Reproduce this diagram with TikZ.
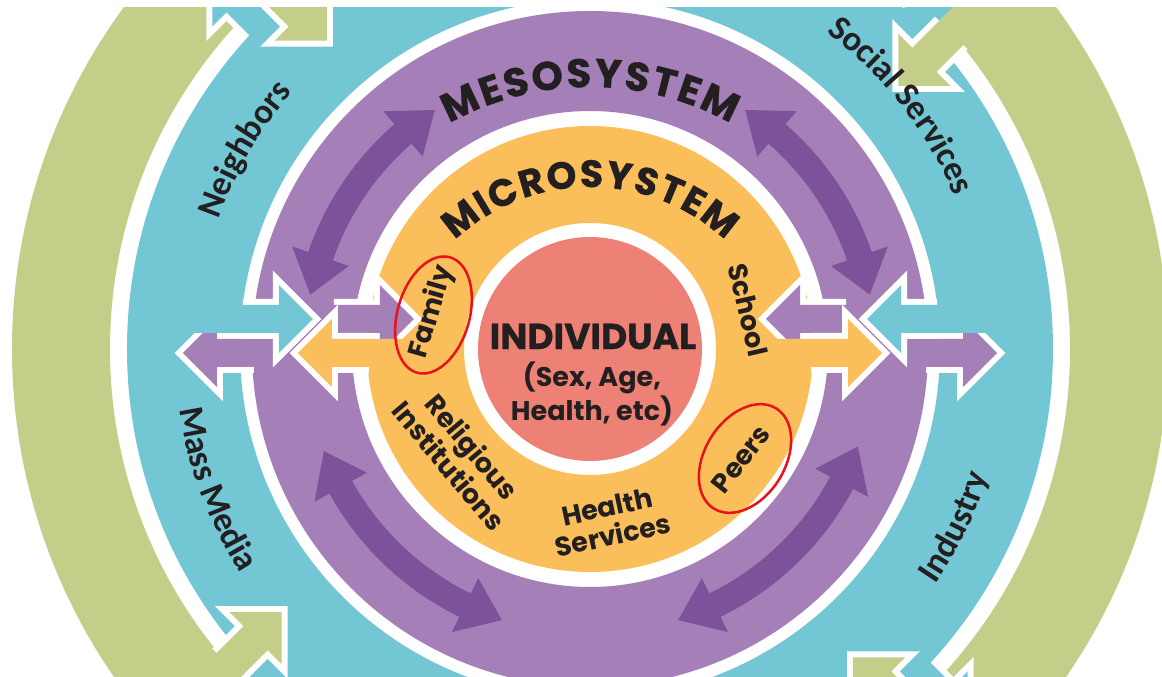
\documentclass[tikz,border=0pt]{standalone}
\usepackage{fontspec}
\usetikzlibrary{decorations.text}
\newfontfamily\pop{Poppins}
\newfontfamily\popheavy{Poppins}[FakeBold=0.8]
\newfontfamily\carl{Carlito}
\definecolor{cgreen}{RGB}{197,206,136}
\definecolor{cteal}{RGB}{115,198,212}
\definecolor{cpurple}{RGB}{165,127,183}
\definecolor{cdark}{RGB}{124,83,155}
\definecolor{corange}{RGB}{250,191,90}
\definecolor{csalmon}{RGB}{237,129,117}
\definecolor{ctxt}{RGB}{35,31,32}
\definecolor{coval}{RGB}{232,18,24}
\newcommand\hH{34}\newcommand\hS{14}\newcommand\hL{34}
\newcommand\arR{285}\newcommand\arS{13}\newcommand\arH{30}\newcommand\arD{8}
\newcommand\outerfont{\carl\bfseries\fontsize{35}{35}\selectfont}
\newcommand\mesofont{\popheavy\bfseries\fontsize{40}{40}\selectfont}
\newcommand\microfont{\popheavy\bfseries\fontsize{38}{38}\selectfont}
\tikzset{
  arrowline/.style={white, line width=12pt, line join=miter},
  lab/.style={font=\pop\bfseries\fontsize{27}{29}\selectfont, text=ctxt, inner sep=0pt},
  oval/.style={coval, line width=2.5pt},
}
% #1 rotation, #2 offset, #3 tip, #4 sign, #5 stem start, #6 outline start, #7 colour
\newcommand\barrow[7]{%
  \begin{scope}[rotate=#1]
    \pgfmathsetmacro\xb{#3-(#4)*\hL}%
    \draw[arrowline]
      (#6,#2+\hS) -- (\xb,#2+\hS) -- (\xb,#2+\hH) -- (#3,#2)
      -- (\xb,#2-\hH) -- (\xb,#2-\hS) -- (#6,#2-\hS);
    \fill[#7] (#5,#2+\hS) -- (\xb,#2+\hS) -- (\xb,#2+\hH) -- (#3,#2)
      -- (\xb,#2-\hH) -- (\xb,#2-\hS) -- (#5,#2-\hS) -- cycle;
  \end{scope}}
\newcommand\carrow[2]{%
  \fill[cdark] ({#1+\arD}:{\arR-\arS}) arc[start angle={#1+\arD}, end angle={#2-\arD}, radius={\arR-\arS}]
    -- ({#2-\arD}:{\arR-\arH}) -- (#2:\arR) -- ({#2-\arD}:{\arR+\arH}) -- ({#2-\arD}:{\arR+\arS})
    arc[start angle={#2-\arD}, end angle={#1+\arD}, radius={\arR+\arS}]
    -- ({#1+\arD}:{\arR+\arH}) -- (#1:\arR) -- ({#1+\arD}:{\arR-\arH}) -- cycle;}
\begin{document}
\begin{tikzpicture}[x=1pt,y=1pt]
\useasboundingbox (-590,-328) rectangle (572,349);
\fill[white] (-590,-328) rectangle (572,349);
\begin{scope}
\clip (-590,-328) rectangle (572,341);
% rings
\fill[cgreen, even odd rule] (0,0) circle[radius=578] (0,0) circle[radius=480];
\fill[cteal, even odd rule] (0,0) circle[radius=463] (0,0) circle[radius=350];
\fill[cpurple, even odd rule] (0,0) circle[radius=338] (0,0) circle[radius=238];
\fill[corange, even odd rule] (0,0) circle[radius=223] (0,0) circle[radius=126];
\fill[csalmon] (0,0) circle[radius=112];
% diagonal arrows between green and teal
\renewcommand\hH{37}\renewcommand\hS{17}\renewcommand\hL{37}
\foreach \p in {135,225,315,45}{
  \barrow{\p}{2}{532}{1}{420}{464}{cteal}
  \barrow{\p}{-32}{404}{-1}{545}{479}{cgreen}
}
% curved double arrows in the mesosystem
\carrow{123}{169}
\carrow{11}{57}
\carrow{201}{252}
\carrow{288}{340}
% horizontal arrows
\renewcommand\hH{34}\renewcommand\hS{14}\renewcommand\hL{34}
\barrow{0}{30}{176}{-1}{300}{256}{cpurple}
\barrow{0}{-4}{407}{1}{300}{336}{cpurple}
\barrow{0}{-4}{292}{1}{180}{221}{corange}
\barrow{0}{30}{277}{-1}{400}{347}{cteal}
\barrow{180}{-30}{176}{-1}{300}{256}{cpurple}
\barrow{180}{4}{407}{1}{300}{336}{cpurple}
\barrow{180}{4}{292}{1}{180}{221}{corange}
\barrow{180}{-30}{277}{-1}{400}{347}{cteal}
% curved labels
\path[decorate, decoration={text along path, text color=ctxt, text align=fit to path,
  text={|\mesofont|MESOSYSTEM}}] (0,-28) ++(119:290) arc[start angle=119, end angle=61, radius=290];
\path[decorate, decoration={text along path, text color=ctxt, text align=fit to path,
  text={|\microfont|MICROSYSTEM}}] (0,-36) ++(133:198) arc[start angle=133, end angle=47, radius=198];
\path[decorate, decoration={text along path, text color=ctxt, text align=center,
  text={|\outerfont|Neighbors}}] (185:393) arc[start angle=185, end angle=115, radius=393];
\path[decorate, decoration={text along path, text color=ctxt, text align=center,
  text={|\outerfont|Social Services}}] (73:395) arc[start angle=73, end angle=3, radius=395];
\path[decorate, decoration={text along path, text color=ctxt, text align=center,
  text={|\outerfont|Mass Media}}] (165.5:415) arc[start angle=165.5, end angle=235.5, radius=415];
\path[decorate, decoration={text along path, text color=ctxt, text align=center,
  text={|\outerfont|Industry}}] (-61:418) arc[start angle=-61, end angle=9, radius=418];
% inner labels
\node[lab, font=\popheavy\bfseries\fontsize{36}{36}\selectfont] (indiv) at (3,12.5) {INDIVIDUAL};
\node[lab, align=center] (attrs) at (2,-45) {(Sex, Age,\\Health, etc)};
\node[lab, rotate=74] (family) at (-158,37) {Family};
\node[lab, rotate=-77] (school) at (158,39) {School};
\node[lab, rotate=52] (peers) at (151,-110) {Peers};
\node[lab, rotate=-50, align=center] (relig) at (-129,-107) {Religious\\Institutions};
\node[lab, rotate=12, align=center] (health) at (20,-172) {Health\\Services};
% red ovals
\draw[oval, rotate around={74:(-156.5,34)}] (-156.5,34) ellipse[x radius=60, y radius=36];
\draw[oval, rotate around={58:(155,-109.5)}] (155,-109.5) ellipse[x radius=59, y radius=40];
\end{scope}
\end{tikzpicture}
\end{document}
